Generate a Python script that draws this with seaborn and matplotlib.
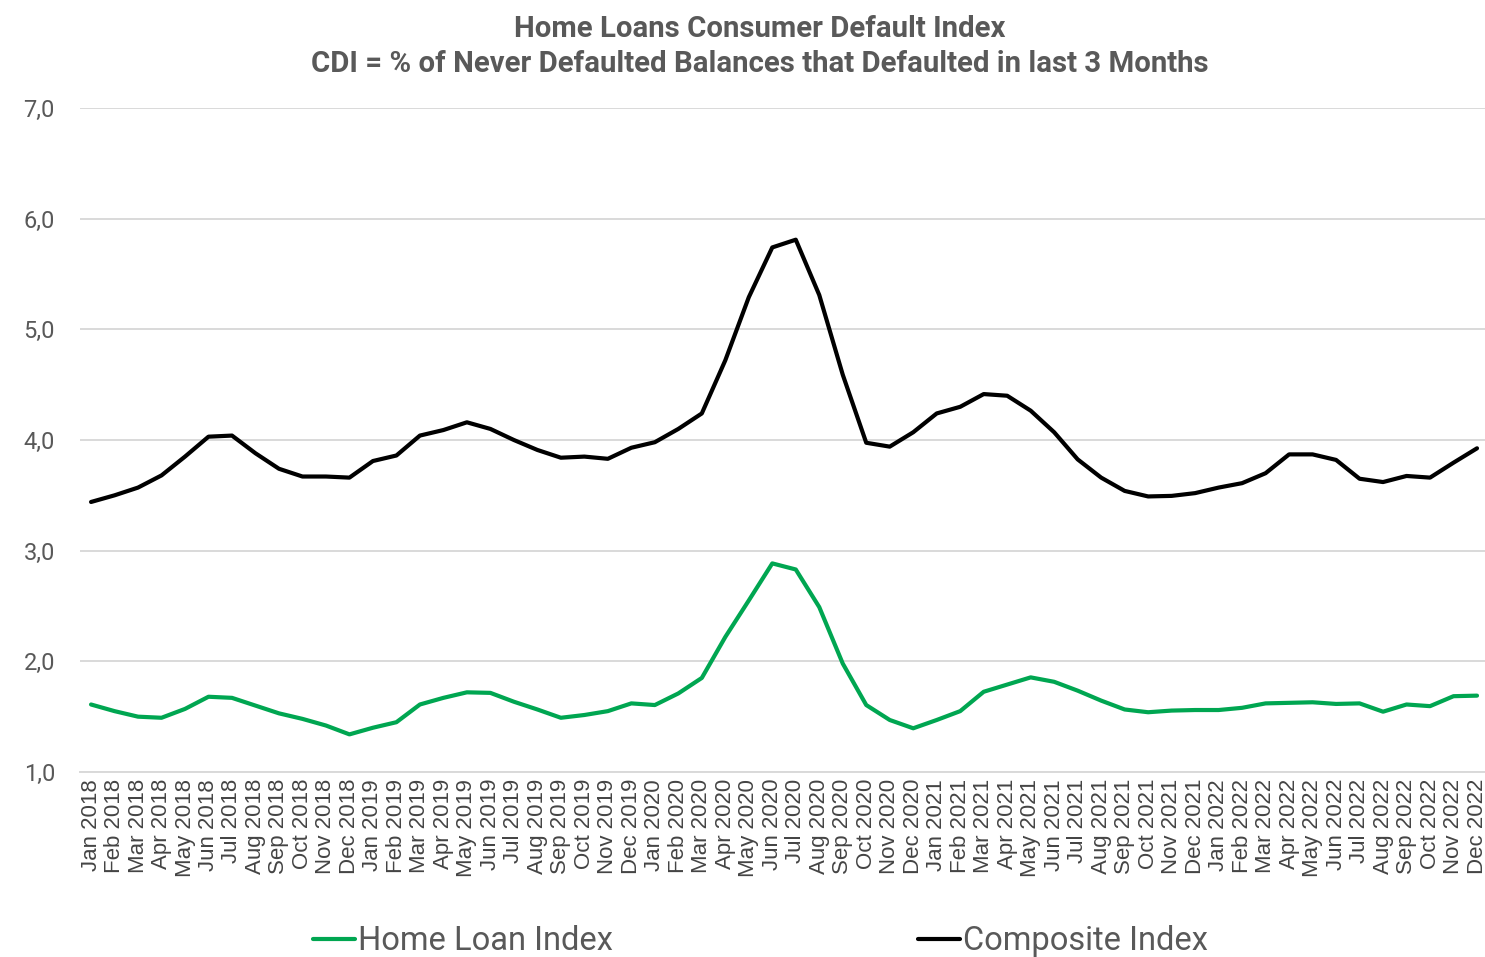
import matplotlib
matplotlib.use("Agg")
import matplotlib.pyplot as plt
from matplotlib.ticker import FuncFormatter, MultipleLocator
import pandas as pd
import seaborn as sns

# Monthly categories, Jan 2018 .. Dec 2022
month_names = ["Jan", "Feb", "Mar", "Apr", "May", "Jun",
               "Jul", "Aug", "Sep", "Oct", "Nov", "Dec"]
years = [2018, 2019, 2020, 2021, 2022]
months = [f"{m} {y}" for y in years for m in month_names]

home_loan_index = [
    1.61, 1.55, 1.50, 1.49, 1.57, 1.68, 1.67, 1.60, 1.53, 1.48, 1.42, 1.34,
    1.40, 1.45, 1.61, 1.67, 1.72, 1.715, 1.635, 1.565, 1.49, 1.515, 1.55, 1.62,
    1.605, 1.71, 1.85, 2.22, 2.55, 2.885, 2.83, 2.49, 1.98, 1.605, 1.47, 1.395,
    1.47, 1.55, 1.725, 1.79, 1.855, 1.815, 1.735, 1.645, 1.565, 1.54, 1.555, 1.56,
    1.56, 1.58, 1.62, 1.625, 1.63, 1.615, 1.62, 1.545, 1.61, 1.595, 1.685, 1.69,
]
composite_index = [
    3.44, 3.50, 3.57, 3.68, 3.85, 4.03, 4.04, 3.88, 3.74, 3.67, 3.67, 3.66,
    3.81, 3.86, 4.04, 4.09, 4.16, 4.10, 4.00, 3.91, 3.84, 3.85, 3.83, 3.93,
    3.98, 4.10, 4.24, 4.72, 5.29, 5.74, 5.81, 5.31, 4.59, 3.975, 3.94, 4.07,
    4.24, 4.30, 4.415, 4.40, 4.265, 4.07, 3.825, 3.66, 3.54, 3.49, 3.495, 3.52,
    3.57, 3.61, 3.70, 3.87, 3.87, 3.82, 3.65, 3.62, 3.675, 3.66, 3.795, 3.925,
]
series_names = ["Home Loan Index", "Composite Index"]
series_colors = {"Home Loan Index": "#00A651", "Composite Index": "#000000"}

title_lines = ["Home Loans Consumer Default Index",
               "CDI = % of Never Defaulted Balances that Defaulted in last 3 Months"]

df = pd.DataFrame({
    "pos": list(range(len(months))) * 2,
    "value": home_loan_index + composite_index,
    "series": [series_names[0]] * len(months) + [series_names[1]] * len(months),
})

sns.set_theme(style="white")
plt.rcParams["font.family"] = ["Roboto", "DejaVu Sans"]

text_gray = "#595959"
tick_gray = "#444444"
grid_gray = "#D9D9D9"

fig = plt.figure(figsize=(14.85, 9.57), dpi=100)
ax = fig.add_axes([80 / 1485, 1 - 772 / 957, 1 - 80 / 1485, (772 - 108) / 957])

sns.lineplot(data=df, x="pos", y="value", hue="series", hue_order=series_names,
             palette=series_colors, linewidth=3.0, ax=ax, legend=True)

ax.set_xlim(-0.47, len(months) - 1 + 0.34)
ax.set_ylim(1.0, 7.0)
ax.yaxis.set_major_locator(MultipleLocator(1.0))
ax.yaxis.set_major_formatter(FuncFormatter(lambda v, _: f"{v:.1f}".replace(".", ",")))
ax.grid(axis="y", color=grid_gray, linewidth=1.4)
ax.set_axisbelow(True)
for side in ["top", "right", "left"]:
    ax.spines[side].set_visible(False)
ax.spines["bottom"].set_color(grid_gray)
ax.spines["bottom"].set_linewidth(1.4)

ax.set_xticks(range(len(months)))
ax.set_xticklabels(months, rotation=90, fontsize=16, color=tick_gray,
                   family=["Liberation Sans", "DejaVu Sans"])
ax.tick_params(axis="x", length=0, pad=5)
ax.tick_params(axis="y", length=0, pad=18, labelsize=17, labelcolor=text_gray)
ax.set_xlabel("")
ax.set_ylabel("")

# Title, two centred lines
fig.text(760 / 1485, 1 - 29 / 957, title_lines[0], ha="center", va="center",
         fontsize=21.2, fontweight="bold", color=text_gray)
fig.text(760 / 1485, 1 - 64 / 957, title_lines[1], ha="center", va="center",
         fontsize=21.2, fontweight="bold", color=text_gray)

# Legend entries placed along the bottom
handles, labels = ax.get_legend_handles_labels()
ax.get_legend().remove()
anchors = [(313 / 1485, 1 - 941 / 957), (918 / 1485, 1 - 941 / 957)]
for h, lab, anchor in zip(handles, labels, anchors):
    fig.legend([h], [lab], loc="center left", bbox_to_anchor=anchor,
               frameon=False, fontsize=23.5, handlelength=1.3, handletextpad=0.08,
               borderpad=0, borderaxespad=0, labelcolor=text_gray)

fig.savefig("out.png", dpi=100)
